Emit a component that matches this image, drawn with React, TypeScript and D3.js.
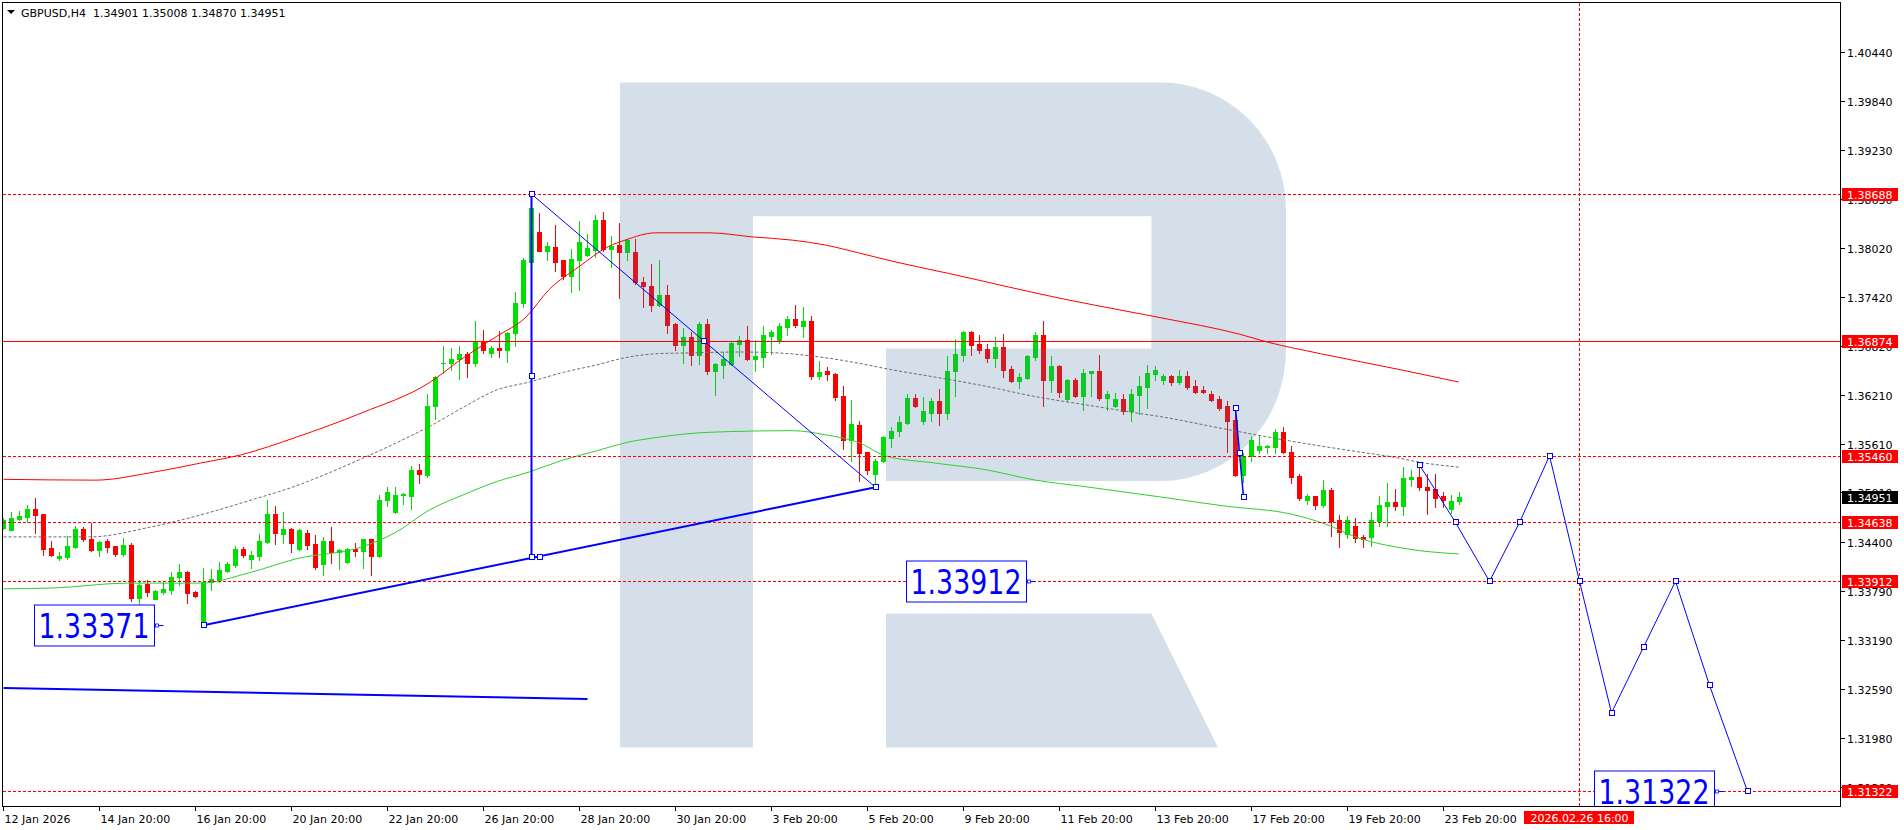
import React from "react"
import * as d3 from "d3"

// H4 bars, index 0 = 12 Jan 20:00 ; [open, high, low, close]
const ohlc: number[][] = [
  [1.3457, 1.3469, 1.3456, 1.3467], [1.3455, 1.3477, 1.3454, 1.3469], [1.3468, 1.3478, 1.3467, 1.3472], [1.3471, 1.3485, 1.3464, 1.348],
  [1.348, 1.3494, 1.3451, 1.3473], [1.3474, 1.3474, 1.3424, 1.3431], [1.3432, 1.3441, 1.3422, 1.3424], [1.342, 1.3427, 1.3418, 1.3422],
  [1.3421, 1.3447, 1.3419, 1.3435], [1.3434, 1.3459, 1.3432, 1.3456], [1.3456, 1.3458, 1.3441, 1.3443], [1.3443, 1.3463, 1.3429, 1.343],
  [1.343, 1.3441, 1.3422, 1.344], [1.3441, 1.3443, 1.3427, 1.3434], [1.3435, 1.3435, 1.3422, 1.3425], [1.3425, 1.3445, 1.3422, 1.3436],
  [1.3436, 1.3438, 1.3367, 1.3371], [1.3371, 1.3393, 1.3363, 1.3387], [1.3388, 1.3393, 1.3373, 1.3378], [1.337, 1.3381, 1.3369, 1.3379],
  [1.3378, 1.3391, 1.3376, 1.3382], [1.3381, 1.3403, 1.3376, 1.3397], [1.3396, 1.3413, 1.3387, 1.3403], [1.3403, 1.3404, 1.3365, 1.3377],
  [1.3378, 1.3379, 1.3372, 1.3373], [1.3339, 1.3408, 1.33371, 1.3391], [1.339, 1.3407, 1.3381, 1.3394], [1.3393, 1.3415, 1.339, 1.3405],
  [1.3404, 1.3415, 1.3403, 1.3413], [1.3411, 1.3435, 1.3409, 1.3431], [1.3431, 1.3433, 1.3421, 1.3424], [1.3419, 1.3429, 1.3408, 1.3424],
  [1.3423, 1.345, 1.3417, 1.3441], [1.344, 1.3491, 1.3439, 1.3474], [1.3474, 1.3484, 1.3437, 1.3451], [1.345, 1.3477, 1.3439, 1.3456],
  [1.3456, 1.3457, 1.3427, 1.3439], [1.3431, 1.3456, 1.343, 1.3455], [1.3451, 1.3454, 1.3431, 1.3436], [1.3437, 1.3448, 1.3407, 1.3409],
  [1.3413, 1.3446, 1.3399, 1.3441], [1.3441, 1.3458, 1.3414, 1.3427], [1.3427, 1.3431, 1.3407, 1.343], [1.3415, 1.3432, 1.3414, 1.3431],
  [1.3431, 1.3438, 1.3422, 1.3428], [1.3428, 1.3444, 1.3408, 1.3443], [1.3443, 1.3444, 1.3399, 1.3422], [1.3422, 1.3498, 1.3421, 1.3491],
  [1.3491, 1.3507, 1.3484, 1.3501], [1.3477, 1.3507, 1.3476, 1.3498], [1.3498, 1.35, 1.3487, 1.3499], [1.3497, 1.3533, 1.3481, 1.3529],
  [1.3529, 1.3536, 1.3513, 1.3524], [1.3522, 1.3622, 1.352, 1.3607], [1.3607, 1.3644, 1.3591, 1.3643], [1.366, 1.3682, 1.3648, 1.3661],
  [1.366, 1.3679, 1.3652, 1.3666], [1.3666, 1.3681, 1.3641, 1.3672], [1.3672, 1.3674, 1.3643, 1.366], [1.366, 1.3712, 1.3657, 1.3687],
  [1.3687, 1.3701, 1.3673, 1.3677], [1.3673, 1.3682, 1.3668, 1.3679], [1.3679, 1.37, 1.3668, 1.3677], [1.3677, 1.3699, 1.3662, 1.3698],
  [1.3698, 1.3748, 1.3681, 1.3734], [1.3734, 1.379, 1.373, 1.3787], [1.3785, 1.38688, 1.3784, 1.3852], [1.3822, 1.3846, 1.3798, 1.3799],
  [1.3799, 1.381, 1.3787, 1.3805], [1.3804, 1.3831, 1.3774, 1.3785], [1.3787, 1.3787, 1.3764, 1.3768], [1.3768, 1.3801, 1.3748, 1.3789],
  [1.3787, 1.3835, 1.375, 1.381], [1.3794, 1.382, 1.3793, 1.3802], [1.38, 1.3843, 1.3791, 1.3837], [1.3837, 1.3847, 1.3798, 1.3801],
  [1.3801, 1.3817, 1.3779, 1.3805], [1.3806, 1.3833, 1.3741, 1.3797], [1.3797, 1.3814, 1.3787, 1.3812], [1.3797, 1.3813, 1.3758, 1.376],
  [1.376, 1.3766, 1.373, 1.3755], [1.3755, 1.3783, 1.3724, 1.3732], [1.3732, 1.3787, 1.3731, 1.3744], [1.3744, 1.3757, 1.3698, 1.3707],
  [1.3709, 1.371, 1.3677, 1.3683], [1.3683, 1.3704, 1.3661, 1.3693], [1.3693, 1.3699, 1.3658, 1.367], [1.367, 1.3711, 1.3659, 1.3709],
  [1.3709, 1.3715, 1.3647, 1.365], [1.365, 1.366, 1.3621, 1.3659], [1.3658, 1.3674, 1.3642, 1.3665], [1.3659, 1.3686, 1.3658, 1.3685],
  [1.3684, 1.3694, 1.3669, 1.3689], [1.3689, 1.3706, 1.3664, 1.3665], [1.3665, 1.3689, 1.365, 1.3669], [1.3668, 1.3706, 1.3655, 1.3695],
  [1.3694, 1.3701, 1.3672, 1.3699], [1.3687, 1.371, 1.3685, 1.3706], [1.3705, 1.3718, 1.3695, 1.3715], [1.3715, 1.3732, 1.3705, 1.3707],
  [1.3706, 1.3729, 1.3693, 1.3712], [1.3712, 1.3718, 1.3641, 1.3645], [1.3645, 1.3663, 1.3641, 1.3649], [1.3651, 1.3655, 1.364, 1.3647],
  [1.3647, 1.3648, 1.3615, 1.3618], [1.362, 1.3632, 1.3555, 1.3565], [1.3565, 1.3615, 1.3539, 1.3585], [1.3584, 1.3589, 1.3515, 1.355],
  [1.3551, 1.3551, 1.3524, 1.3528], [1.3523, 1.3542, 1.3507, 1.354], [1.3539, 1.357, 1.3538, 1.3569], [1.3568, 1.3582, 1.3557, 1.3577],
  [1.3576, 1.3595, 1.3571, 1.3588], [1.3586, 1.3622, 1.3585, 1.3617], [1.3617, 1.3622, 1.3606, 1.3607], [1.3589, 1.3619, 1.3585, 1.3601],
  [1.3599, 1.3617, 1.3589, 1.3614], [1.3614, 1.3628, 1.3584, 1.3599], [1.3599, 1.3669, 1.3592, 1.3651], [1.365, 1.369, 1.362, 1.3672],
  [1.367, 1.37, 1.3663, 1.3699], [1.3699, 1.37, 1.367, 1.3683], [1.3684, 1.3695, 1.3673, 1.3677], [1.3678, 1.3684, 1.3662, 1.3667],
  [1.3667, 1.3693, 1.3656, 1.368], [1.368, 1.3696, 1.3643, 1.3652], [1.3653, 1.3657, 1.3637, 1.3638], [1.3638, 1.3648, 1.363, 1.3643],
  [1.3642, 1.367, 1.3641, 1.3669], [1.3668, 1.3699, 1.3664, 1.3695], [1.3695, 1.3712, 1.3607, 1.364], [1.364, 1.3669, 1.3625, 1.3657],
  [1.3657, 1.3658, 1.3618, 1.3625], [1.3616, 1.3641, 1.3614, 1.364], [1.364, 1.3642, 1.3619, 1.362], [1.362, 1.3653, 1.3603, 1.3648],
  [1.3648, 1.3651, 1.362, 1.365], [1.365, 1.367, 1.3615, 1.3617], [1.3617, 1.3626, 1.3603, 1.3622], [1.3607, 1.3623, 1.3606, 1.3616],
  [1.3616, 1.3622, 1.3598, 1.3601], [1.3601, 1.3628, 1.3589, 1.3622], [1.3621, 1.3644, 1.3597, 1.3632], [1.3631, 1.3658, 1.3605, 1.3648],
  [1.3647, 1.3657, 1.364, 1.3652], [1.3639, 1.3647, 1.3635, 1.3644], [1.3644, 1.3646, 1.3633, 1.3637], [1.3637, 1.3652, 1.3635, 1.3644],
  [1.3644, 1.3651, 1.3628, 1.3631], [1.3632, 1.364, 1.3623, 1.3625], [1.3627, 1.3632, 1.3623, 1.3625], [1.3622, 1.3626, 1.3613, 1.3615],
  [1.3616, 1.362, 1.3602, 1.3605], [1.3607, 1.3614, 1.3551, 1.3589], [1.359, 1.3605, 1.3521, 1.3522], [1.3522, 1.3549, 1.3514, 1.3546],
  [1.3546, 1.357, 1.354, 1.3566], [1.3553, 1.3572, 1.3549, 1.3558], [1.3557, 1.3559, 1.3549, 1.3558], [1.3557, 1.3579, 1.355, 1.3575],
  [1.3575, 1.3581, 1.355, 1.3551], [1.3551, 1.3558, 1.3512, 1.352], [1.3521, 1.3524, 1.3491, 1.3494], [1.3491, 1.3499, 1.3487, 1.3496],
  [1.3496, 1.3497, 1.348, 1.3485], [1.3485, 1.3516, 1.3483, 1.3504], [1.3504, 1.3506, 1.3447, 1.3466], [1.3467, 1.3473, 1.3433, 1.3452],
  [1.345, 1.3472, 1.3445, 1.3467], [1.3459, 1.3469, 1.344, 1.3445], [1.3446, 1.3448, 1.3434, 1.3443], [1.3446, 1.3477, 1.3435, 1.3467],
  [1.3465, 1.3496, 1.3459, 1.3485], [1.3484, 1.3513, 1.3459, 1.3489], [1.3489, 1.3505, 1.3479, 1.3484], [1.3484, 1.3532, 1.3473, 1.3519],
  [1.3517, 1.3529, 1.3509, 1.352], [1.352, 1.3535, 1.3504, 1.3507], [1.3508, 1.3524, 1.3474, 1.3504], [1.3505, 1.3523, 1.3483, 1.3494],
  [1.3496, 1.3501, 1.3483, 1.3491], [1.348, 1.3498, 1.3476, 1.349], [1.34901, 1.35008, 1.3487, 1.34951],
]

// indicator lines: [bar, price]
const redMA = [
  [0, 1.3517], [11.5, 1.3516], [18.3, 1.3525], [24.6, 1.3537], [29.6, 1.3547], [36.6, 1.3569], [44.8, 1.3599],
  [53.2, 1.3636], [57.5, 1.3667], [61.6, 1.3693], [65.3, 1.3717], [68.2, 1.3751], [71.9, 1.3779], [75.6, 1.3804],
  [77.7, 1.3812], [81.5, 1.3821], [88.2, 1.3821], [93.6, 1.3816], [98.6, 1.3812], [102.7, 1.3806], [107, 1.3796],
  [111.1, 1.3786], [118.1, 1.3771], [133.2, 1.3738], [139.5, 1.3726], [144.8, 1.3716], [154.5, 1.3696],
  [158.1, 1.3686], [164.6, 1.3672], [174.7, 1.3652], [181.9, 1.3637],
]
const grayMA = [
  [0, 1.3446], [10.8, 1.3446], [18.3, 1.3458], [24.6, 1.3473], [30.8, 1.3491], [36.6, 1.3509], [40.7, 1.3525],
  [44.9, 1.3543], [49.1, 1.3562], [53.2, 1.3582], [57.5, 1.3606], [61.6, 1.3627], [65.7, 1.3637], [70, 1.3649],
  [74.1, 1.3658], [77.7, 1.3667], [81.9, 1.3672], [86.1, 1.3673], [92.3, 1.3674], [96.5, 1.3673], [102.7, 1.3667],
  [107, 1.366], [111.1, 1.3652], [116.5, 1.3643], [122.7, 1.3632], [129, 1.3619], [135.2, 1.3609], [141.5, 1.3599],
  [144.8, 1.3594], [152.7, 1.3579], [161, 1.3564], [169.3, 1.3551], [173.4, 1.3545], [177.7, 1.3537], [181.9, 1.3532],
]
const greenMA = [
  [0, 1.3382], [6.2, 1.3383], [15.5, 1.3389], [24.6, 1.3389], [30.8, 1.3402], [36.6, 1.3419], [44.9, 1.3434],
  [49.1, 1.3452], [53.2, 1.3479], [57.5, 1.3498], [61.6, 1.3514], [65.7, 1.3526], [70, 1.3541], [74.1, 1.3552],
  [77.7, 1.3562], [81.9, 1.3569], [88.2, 1.3575], [98.6, 1.3577], [102.7, 1.3572], [107, 1.3562], [110.2, 1.3546],
  [116.5, 1.3537], [122.7, 1.3529], [129, 1.3516], [135.2, 1.3508], [144.8, 1.3495], [152.7, 1.3484], [161, 1.3474],
  [165.2, 1.3462], [169.3, 1.3445], [175.6, 1.3431], [181.9, 1.3425],
]

// drawn objects (blue)
const riseLine = [[25, 1.33371], [109, 1.35072]]
const fallLine = [[66, 1.38688], [109, 1.35072]]
const vertLine = [[66, 1.38688], [66, 1.36448], [66, 1.34208]]
const flatLine = [[0, 1.32597], [73, 1.32461]]
const dropLine = [[154, 1.36046], [154.5, 1.35491], [155, 1.34948]]
const forecast = [
  [177, 1.35347], [181.5, 1.34638], [185.75, 1.33912], [189.5, 1.34638], [193.25, 1.3546], [197, 1.33912],
  [201, 1.3229], [205, 1.331], [209, 1.33912], [213.25, 1.3263], [218, 1.31322],
]
const extraAnchors = [[67, 1.34208], [87.5, 1.36874]]

const dashedLevels = [1.38688, 1.3546, 1.34638, 1.33912, 1.31322]
const solidLevel = 1.36874
const priceTags = [
  { v: 1.38688, c: "#ff0000" }, { v: 1.36874, c: "#ff0000" }, { v: 1.3546, c: "#ff0000" }, { v: 1.34951, c: "#000000" },
  { v: 1.34638, c: "#ff0000" }, { v: 1.33912, c: "#ff0000" }, { v: 1.31322, c: "#ff0000" },
]
const bigLabels = [
  { text: "1.33371", price: 1.33371, bar: 20 },
  { text: "1.33912", price: 1.33912, bar: 129 },
  { text: "1.31322", price: 1.31322, bar: 215 },
]

const priceTicks = [1.4044, 1.3984, 1.3923, 1.3863, 1.3802, 1.3742, 1.3682, 1.3621, 1.3561, 1.3501, 1.344, 1.3379, 1.3319, 1.3259, 1.3198, 1.3138]
const dateTicks = [
  { bar: 0, label: "12 Jan 2026" }, { bar: 12, label: "14 Jan 20:00" }, { bar: 24, label: "16 Jan 20:00" },
  { bar: 36, label: "20 Jan 20:00" }, { bar: 48, label: "22 Jan 20:00" }, { bar: 60, label: "26 Jan 20:00" },
  { bar: 72, label: "28 Jan 20:00" }, { bar: 84, label: "30 Jan 20:00" }, { bar: 96, label: "3 Feb 20:00" },
  { bar: 108, label: "5 Feb 20:00" }, { bar: 120, label: "9 Feb 20:00" }, { bar: 132, label: "11 Feb 20:00" },
  { bar: 144, label: "13 Feb 20:00" }, { bar: 156, label: "17 Feb 20:00" }, { bar: 168, label: "19 Feb 20:00" },
  { bar: 180, label: "23 Feb 20:00" },
]
const cursorBar = 197
const cursorLabel = "2026.02.26 16:00"

const FONT = "DejaVu Sans"
const BULL = "#00e000"
const BEAR = "#ff0000"
const BLUE = "#0000ff"

const PL = 2.5, PT = 2.5, PR = 1840.5, PB = 806.5

export default function App() {
  const x = d3.scaleLinear().domain([0, 1]).range([3.5, 11.5])
  const y = d3.scaleLinear().domain([1.3198, 1.4044]).range([738, 52])
  const line = d3.line<number[]>().x((d) => x(d[0])).y((d) => y(d[1]))
  const smooth = d3.line<number[]>().x((d) => x(d[0])).y((d) => y(d[1])).curve(d3.curveMonotoneX)
  const sq = (d: number[], k: string) => (
    <rect key={k} x={Math.round(x(d[0])) - 2.5} y={Math.round(y(d[1])) - 2.5} width={5} height={5} fill="#fff" stroke={BLUE} />
  )

  return (
    <svg width={1904} height={830} style={{ position: "absolute", left: 0, top: 0, background: "#fff" }} fontFamily={FONT}>
      <defs>
        <clipPath id="plot">
          <rect x={3} y={3} width={PR - 3} height={PB - 3} />
        </clipPath>
      </defs>
      <rect width={1904} height={830} fill="#fff" />

      <g clipPath="url(#plot)">
        {/* candles */}
        <g shapeRendering="crispEdges">
          {ohlc.map(([o, h, l, c], i) => {
            const col = c >= o ? BULL : BEAR
            const cx = x(i)
            const top = Math.round(y(Math.max(o, c)))
            const bot = Math.round(y(Math.min(o, c)))
            return (
              <g key={i}>
                <line x1={cx} x2={cx} y1={Math.round(y(h))} y2={Math.round(y(l)) + 1} stroke={col} />
                <rect x={cx - 2.5} y={top} width={5} height={Math.max(1, bot - top + 1)} fill={col} />
              </g>
            )
          })}
        </g>

        {/* watermark */}
        <g fill="rgb(70,114,163)" fillOpacity={0.227}>
          <path d="M620,82.6 H1161 A125,127 0 0 1 1286,209.6 V350 A125,131 0 0 1 1161,481 H886 V348.5 H1151.4 V216.2 H753 V747.5 H620 Z" />
          <path d="M886,613.4 H1151.4 L1218,747.5 H886 Z" />
        </g>

        {/* moving averages */}
        <path d={smooth(greenMA) || ""} fill="none" stroke="#32cd32" strokeWidth={1} />
        <path d={smooth(grayMA) || ""} fill="none" stroke="#6b6b6b" strokeWidth={1} strokeDasharray="3,2" />
        <path d={smooth(redMA) || ""} fill="none" stroke="#ff0000" strokeWidth={1} />

        {/* levels */}
        <g shapeRendering="crispEdges">
          {dashedLevels.map((p) => (
            <line key={p} x1={PL} x2={PR} y1={Math.round(y(p)) + 0.5} y2={Math.round(y(p)) + 0.5} stroke="#ff0000" strokeDasharray="3,2" />
          ))}
          <line x1={PL} x2={PR} y1={Math.round(y(solidLevel)) + 0.5} y2={Math.round(y(solidLevel)) + 0.5} stroke="#ff0000" />
          <line x1={x(cursorBar)} x2={x(cursorBar)} y1={PT} y2={PB} stroke="#ff0000" strokeDasharray="3,2" />
        </g>

        {/* blue drawings */}
        <path d={line(flatLine) || ""} fill="none" stroke={BLUE} strokeWidth={2} />
        <path d={line(riseLine) || ""} fill="none" stroke={BLUE} strokeWidth={2} />
        <path d={line(fallLine) || ""} fill="none" stroke={BLUE} strokeWidth={1} />
        <path d={line(vertLine) || ""} fill="none" stroke={BLUE} strokeWidth={2} />
        <path d={line(dropLine) || ""} fill="none" stroke={BLUE} strokeWidth={1.5} />
        <path d={line(forecast) || ""} fill="none" stroke={BLUE} strokeWidth={1} />
        {riseLine.map((d, i) => sq(d, "r" + i))}
        {vertLine.map((d, i) => sq(d, "v" + i))}
        {dropLine.map((d, i) => sq(d, "d" + i))}
        {forecast.map((d, i) => sq(d, "f" + i))}
        {extraAnchors.map((d, i) => sq(d, "e" + i))}

        {/* big price labels */}
        {bigLabels.map((b) => {
          const tx = x(b.bar)
          const ty = Math.round(y(b.price)) + 0.5
          const bx = Math.round(tx - 10 - 120) + 0.5
          const by = ty - 20.5
          return (
            <g key={b.text}>
              <line x1={bx + 120} x2={tx} y1={ty} y2={ty} stroke={BLUE} />
              <rect x={bx + 121} y={ty - 1.5} width={3} height={3} fill="#fff" stroke={BLUE} strokeWidth={0.8} />
              <rect x={bx} y={by} width={120} height={41} fill="#fff" stroke={BLUE} />
              <text x={bx + 4} y={by + 33} fontSize={34} fill={BLUE} textLength={111} lengthAdjust="spacingAndGlyphs">
                {b.text}
              </text>
            </g>
          )
        })}
      </g>

      {/* frame */}
      <rect x={PL} y={PT} width={PR - PL} height={PB - PT} fill="none" stroke="#000" shapeRendering="crispEdges" />

      {/* header */}
      <polygon points="7,10 15,10 11,14" fill="#000" />
      <text x={21} y={16.5} fontSize={11} fill="#000" style={{ whiteSpace: "pre" }}>
        {"GBPUSD,H4  1.34901 1.35008 1.34870 1.34951"}
      </text>

      {/* price axis */}
      <g fontSize={11} fill="#000">
        {priceTicks.map((p) => {
          const ty = Math.round(y(p)) + 0.5
          return (
            <g key={p}>
              <line x1={PR} x2={PR + 4} y1={ty} y2={ty} stroke="#000" shapeRendering="crispEdges" />
              <text x={1847} y={ty + 4}>{p.toFixed(5)}</text>
            </g>
          )
        })}
        {priceTags.map((t) => {
          const ty = Math.round(y(t.v))
          return (
            <g key={t.v}>
              <rect x={1842} y={ty - 6} width={56} height={13} fill={t.c} />
              <text x={1847} y={ty + 4.5} fill="#fff">{t.v.toFixed(5)}</text>
            </g>
          )
        })}
      </g>

      {/* time axis */}
      <g fontSize={11} fill="#000">
        {dateTicks.map((t) => (
          <g key={t.bar}>
            <line x1={x(t.bar)} x2={x(t.bar)} y1={PB} y2={PB + 4} stroke="#000" shapeRendering="crispEdges" />
            <text x={x(t.bar) + 1} y={822.5}>{t.label}</text>
          </g>
        ))}
        <rect x={x(cursorBar) - 55.5} y={811} width={110} height={13} fill="#ff0000" />
        <text x={x(cursorBar)} y={822} fill="#fff" textAnchor="middle">{cursorLabel}</text>
      </g>
    </svg>
  )
}
